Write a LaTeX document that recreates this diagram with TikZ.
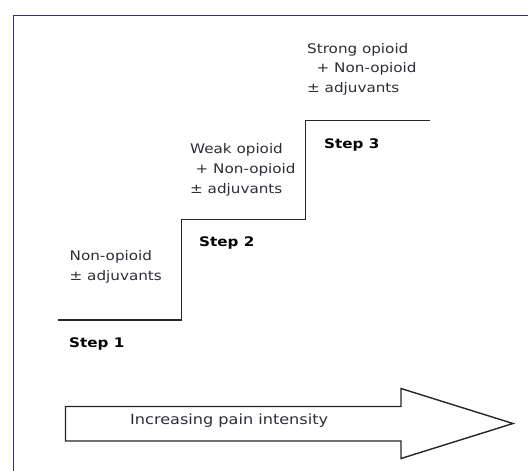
\documentclass[tikz,border=0pt]{standalone}
\usepackage{fontspec}
\newfontfamily\vf[FakeStretch=1.15]{DejaVu Sans}
\definecolor{framecol}{RGB}{48,48,115}
\definecolor{txtcol}{RGB}{45,45,55}
\tikzset{
  txt/.style={anchor=base west, inner sep=0pt, text=txtcol, font=\vf\fontsize{13.2}{16}\selectfont},
  steplabel/.style={anchor=base west, inner sep=0pt, text=black, font=\vf\bfseries\fontsize{13.2}{16}\selectfont},
  stairline/.style={line width=1.8pt, draw=black!85},
  bigarrow/.style={line width=1.4pt, draw=black!85, line join=miter},
  framebox/.style={line width=1pt, draw=framecol}
}
\begin{document}
\begin{tikzpicture}[x=1pt,y=-1pt]
\useasboundingbox (0,0) rectangle (528,471);
\fill[white] (0,0) rectangle (528,471);
% frame
\draw[framebox] (13.5,471) -- (13.5,15) -- (528,15);
% stairs
\coordinate (s0) at (58,320);
\coordinate (s1) at (181.5,320);
\coordinate (s2) at (181.5,219.5);
\coordinate (s3) at (305.5,219.5);
\coordinate (s4) at (305.5,120.5);
\coordinate (s5) at (429.5,120.5);
\draw[stairline] (s0) -- (s1) -- (s2) -- (s3) -- (s4) -- (s5);
% arrow
\draw[bigarrow] (65.5,406.5) -- (401,406.5) -- (401,388.5) -- (513,423.5) -- (401,458.5) -- (401,441) -- (65.5,441) -- cycle;
\node[txt, font=\vf\fontsize{14}{16}\selectfont] (arr) at (130,424) {Increasing pain intensity};
% step 1
\node[txt] (a1) at (69.5,260.7) {Non-opioid};
\node[txt] (a2) at (69.5,280.7) {± adjuvants};
\node[steplabel] (st1) at (69,347.7) {Step 1};
% step 2
\node[txt] (b1) at (190,153.3) {Weak opioid};
\node[txt] (b2) at (195.5,173.3) {+ Non-opioid};
\node[txt] (b3) at (190,193) {± adjuvants};
\node[steplabel] (st2) at (199,246.5) {Step 2};
% step 3
\node[txt] (c1) at (307,53.3) {Strong opioid};
\node[txt] (c2) at (316.5,72.8) {+ Non-opioid};
\node[txt] (c3) at (307,92.2) {± adjuvants};
\node[steplabel] (st3) at (324,148.3) {Step 3};
\end{tikzpicture}
\end{document}
